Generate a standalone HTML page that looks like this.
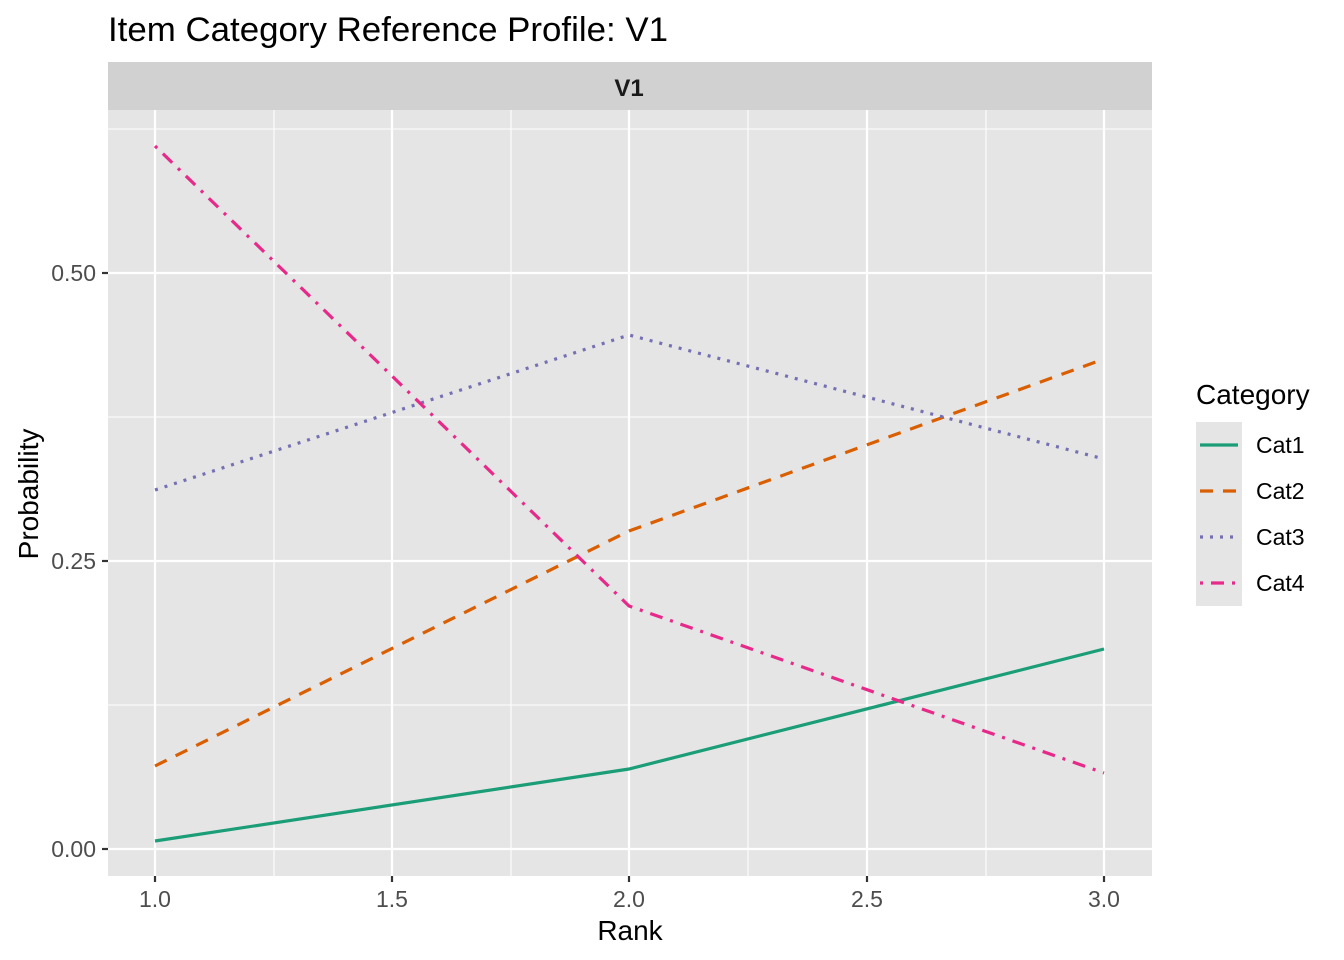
<!DOCTYPE html>
<html><head><meta charset="utf-8"><style>body{margin:0;background:#fff}svg{display:block}text{font-family:"Liberation Sans",Arial,sans-serif}</style></head><body>
<svg width="1344" height="960" viewBox="0 0 1344 960">
<rect width="1344" height="960" fill="#fff"/>
<text x="108" y="41" font-size="34" fill="#000" textLength="560" lengthAdjust="spacingAndGlyphs">Item Category Reference Profile: V1</text>
<rect x="108" y="62" width="1044" height="48" fill="#d1d1d1"/>
<text x="629" y="96" font-size="24" font-weight="bold" text-anchor="middle" fill="#1a1a1a">V1</text>
<rect x="108" y="110" width="1044" height="766" fill="#e5e5e5"/>
<g stroke="#fff" stroke-width="1.1">
<line x1="108" x2="1152" y1="705" y2="705"/><line x1="108" x2="1152" y1="417" y2="417"/><line x1="108" x2="1152" y1="129" y2="129"/>
<line y1="110" y2="876" x1="274" x2="274"/><line y1="110" y2="876" x1="511" x2="511"/><line y1="110" y2="876" x1="748" x2="748"/><line y1="110" y2="876" x1="986" x2="986"/>
</g>
<g stroke="#fff" stroke-width="2.2">
<line x1="108" x2="1152" y1="849" y2="849"/><line x1="108" x2="1152" y1="561" y2="561"/><line x1="108" x2="1152" y1="273" y2="273"/>
<line y1="110" y2="876" x1="155" x2="155"/><line y1="110" y2="876" x1="392" x2="392"/><line y1="110" y2="876" x1="629" x2="629"/><line y1="110" y2="876" x1="867" x2="867"/><line y1="110" y2="876" x1="1104" x2="1104"/>
</g>
<g fill="none" stroke-width="3.2">
<polyline points="155,841 629,769 1104,649" stroke="#1B9E77"/>
<polyline points="155,766 629,531 1104,359" stroke="#D95F02" stroke-dasharray="13,10"/>
<polyline points="155,490 629,335 1104,459" stroke="#7570B3" stroke-dasharray="3,7"/>
<polyline points="155,146 629,606 1104,773" stroke="#E7298A" stroke-dasharray="3,8,13,8"/>
</g>
<g stroke="#333" stroke-width="2.2">
<line x1="102" x2="108" y1="849" y2="849"/><line x1="102" x2="108" y1="561" y2="561"/><line x1="102" x2="108" y1="273" y2="273"/>
<line y1="876" y2="882" x1="155" x2="155"/><line y1="876" y2="882" x1="392" x2="392"/><line y1="876" y2="882" x1="629" x2="629"/><line y1="876" y2="882" x1="867" x2="867"/><line y1="876" y2="882" x1="1104" x2="1104"/>
</g>
<g font-size="23" fill="#4d4d4d" text-anchor="end">
<text x="96" y="857">0.00</text><text x="96" y="569">0.25</text><text x="96" y="281">0.50</text>
</g>
<g font-size="23" fill="#4d4d4d" text-anchor="middle">
<text x="155" y="907">1.0</text><text x="392" y="907">1.5</text><text x="629" y="907">2.0</text><text x="867" y="907">2.5</text><text x="1104" y="907">3.0</text>
</g>
<text x="630" y="940" font-size="28" text-anchor="middle">Rank</text>
<text transform="translate(38,494) rotate(-90)" font-size="28" text-anchor="middle">Probability</text>
<text x="1196" y="404" font-size="28">Category</text>
<rect x="1196" y="422" width="46" height="184" fill="#e5e5e5"/>
<g stroke-width="3.2">
<line x1="1200" x2="1238" y1="445" y2="445" stroke="#1B9E77"/>
<line x1="1200" x2="1238" y1="491" y2="491" stroke="#D95F02" stroke-dasharray="13,10"/>
<line x1="1200" x2="1238" y1="537" y2="537" stroke="#7570B3" stroke-dasharray="3,7"/>
<line x1="1200" x2="1238" y1="583" y2="583" stroke="#E7298A" stroke-dasharray="3,8,13,8"/>
</g>
<g font-size="23" fill="#000">
<text x="1256" y="453">Cat1</text><text x="1256" y="499">Cat2</text><text x="1256" y="545">Cat3</text><text x="1256" y="591">Cat4</text>
</g>
</svg>
</body></html>
